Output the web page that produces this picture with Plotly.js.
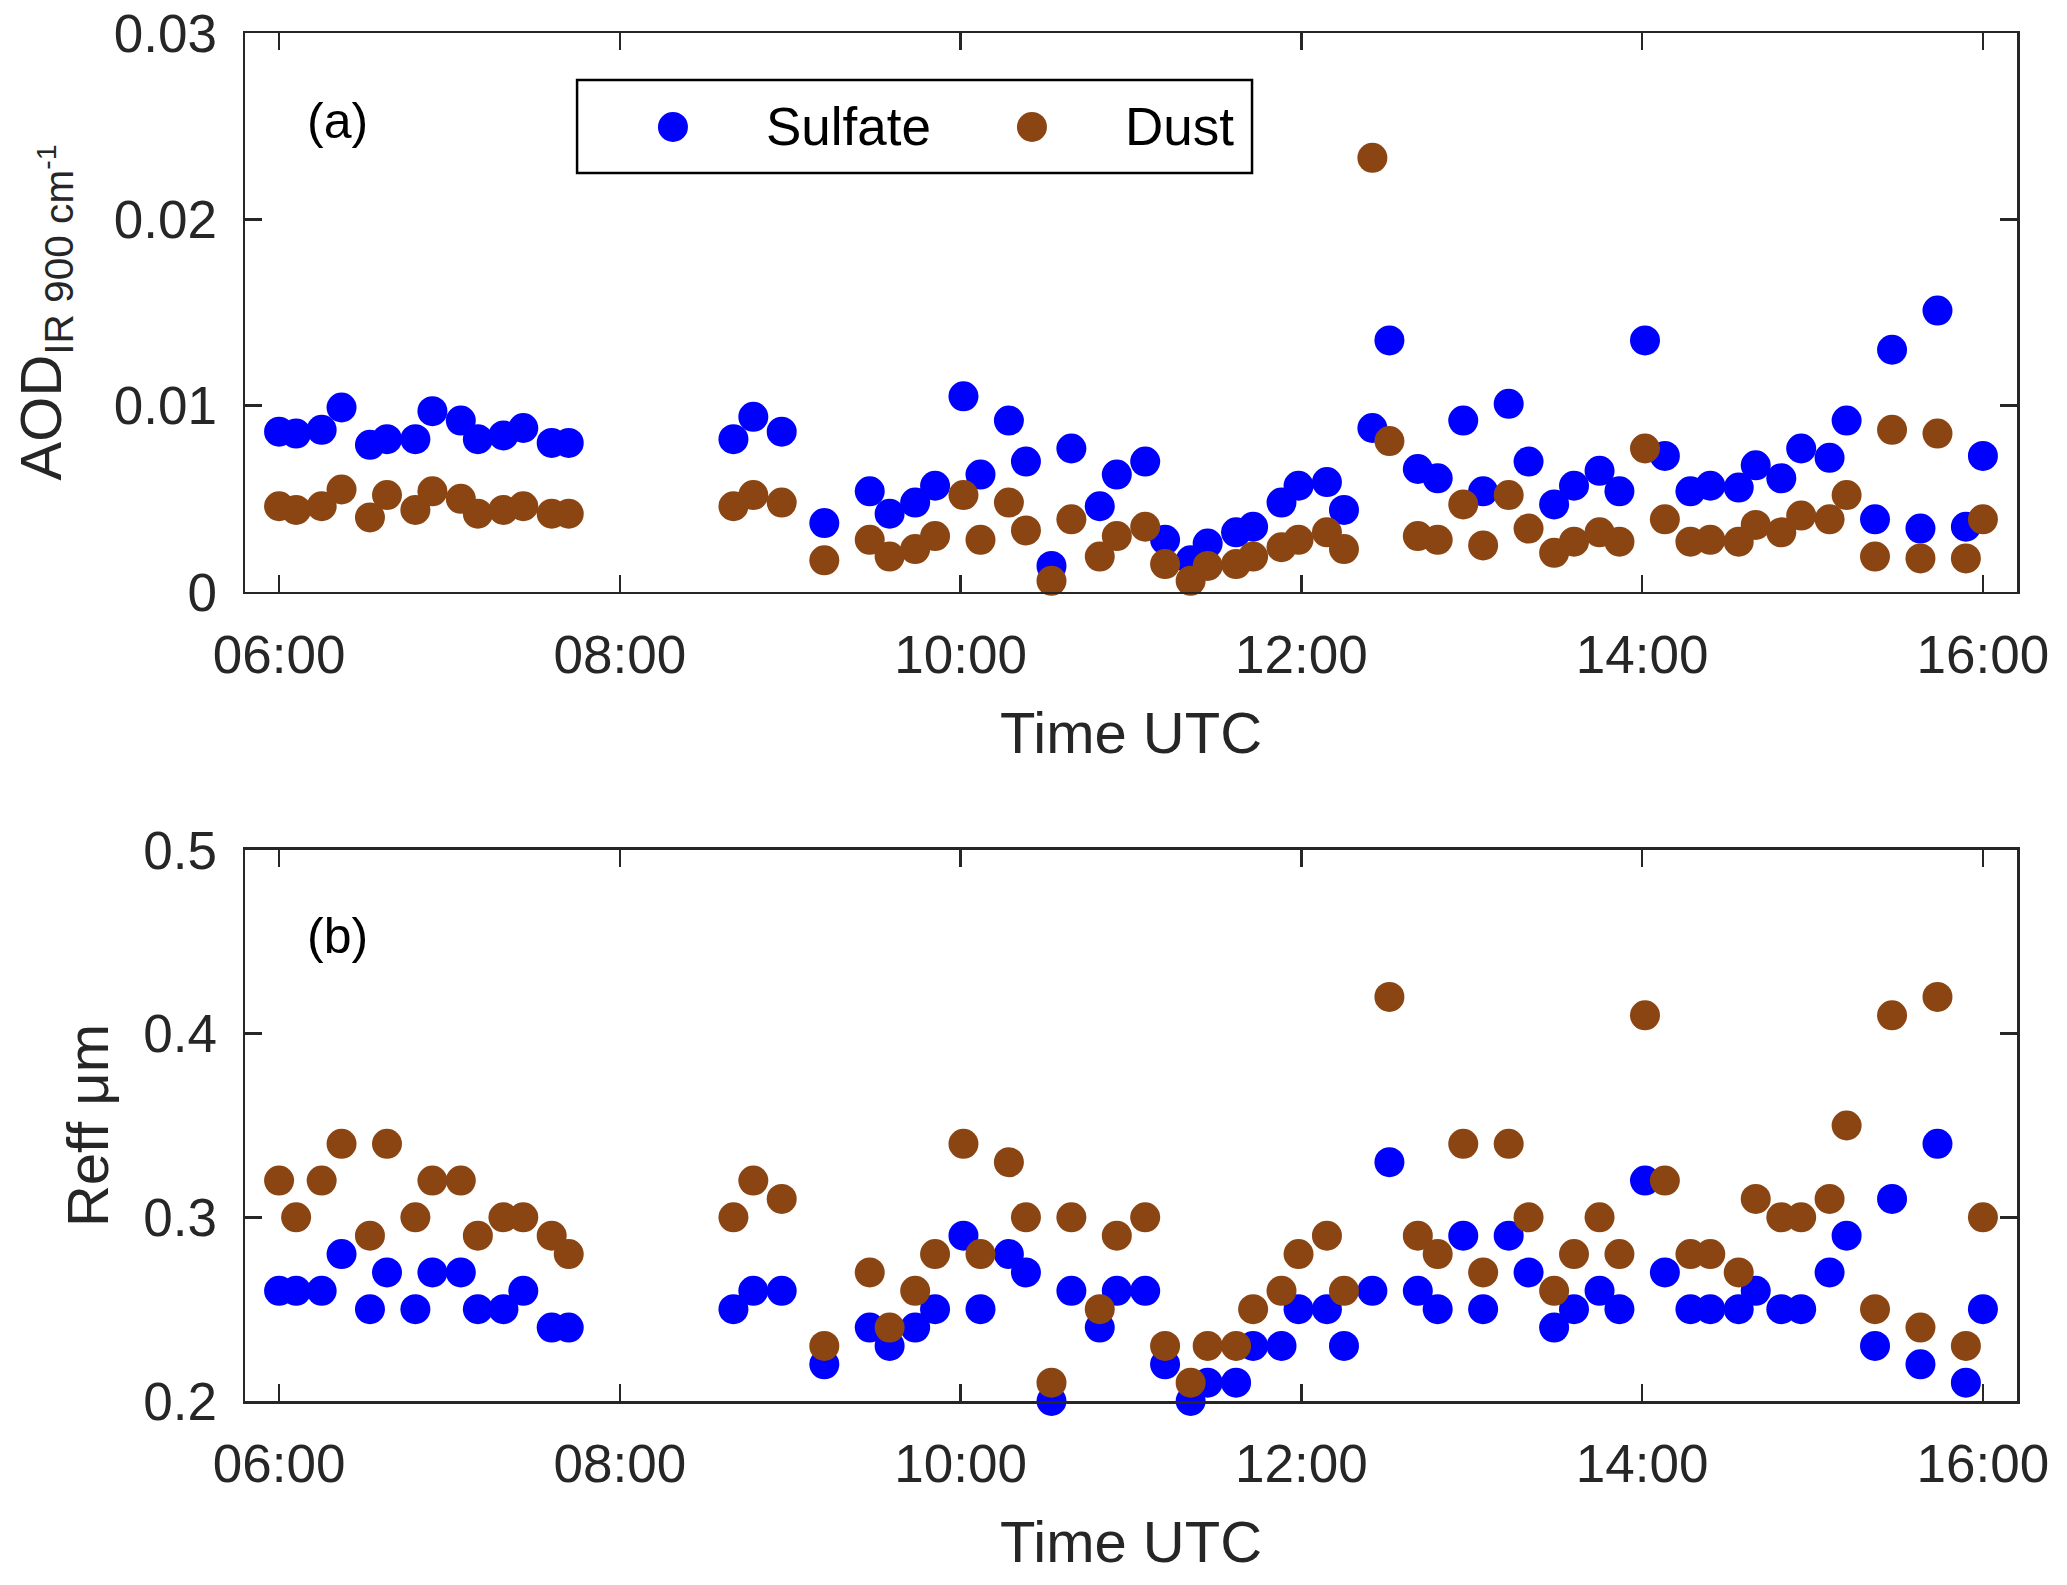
<!DOCTYPE html>
<html>
<head>
<meta charset="utf-8">
<script src="https://cdn.plot.ly/plotly-3.0.1.min.js"></script>
<style>
  body { margin: 0; background: #fff; }
  #aerosol { width: 2067px; height: 1585px; }
</style>
</head>
<body>
<div id="aerosol"></div>
<script>
var day = '2019-01-01 ';

var times = [
    '06:00', '06:06', '06:15', '06:22', '06:32', '06:38', '06:48', '06:54', '07:04', '07:10', '07:19', '07:26', '07:36', '07:42',
    '08:40', '08:47', '08:57',
    '09:12',
    '09:28', '09:35', '09:44', '09:51', '10:01', '10:07', '10:17', '10:23', '10:32', '10:39', '10:49', '10:55',
    '11:05', '11:12', '11:21', '11:27', '11:37', '11:43', '11:53', '11:59', '12:09', '12:15', '12:25', '12:31',
    '12:41', '12:48', '12:57', '13:04', '13:13', '13:20', '13:29', '13:36', '13:45', '13:52', '14:01', '14:08',
    '14:17', '14:24', '14:34', '14:40', '14:49', '14:56', '15:06', '15:12', '15:22', '15:28', '15:38', '15:44',
    '15:54', '16:00'
];

var sulfateAod = [
    0.0086, 0.0085, 0.0087, 0.0099, 0.0079, 0.0082, 0.0082, 0.0097, 0.0092, 0.0082, 0.0084, 0.0088, 0.0080, 0.0080,
    0.0082, 0.0094, 0.0086,
    0.0037,
    0.0054, 0.0042, 0.0048, 0.0057, 0.0105, 0.0063, 0.0092, 0.0070, 0.0014, 0.0077, 0.0046, 0.0063,
    0.0070, 0.0028, 0.0017, 0.0026, 0.0032, 0.0035, 0.0048, 0.0057, 0.0059, 0.0044, 0.0088, 0.0135,
    0.0066, 0.0061, 0.0092, 0.0054, 0.0101, 0.0070, 0.0047, 0.0057, 0.0065, 0.0054, 0.0135, 0.0073,
    0.0054, 0.0057, 0.0056, 0.0068, 0.0061, 0.0077, 0.0072, 0.0092, 0.0039, 0.0130, 0.0034, 0.0151,
    0.0035, 0.0073
];

var dustAod = [
    0.0046, 0.0044, 0.0046, 0.0055, 0.0040, 0.0052, 0.0044, 0.0054, 0.0050, 0.0042, 0.0044, 0.0046, 0.0042, 0.0042,
    0.0046, 0.0052, 0.0048,
    0.0017,
    0.0028, 0.0019, 0.0023, 0.0030, 0.0052, 0.0028, 0.0048, 0.0033, 0.0006, 0.0039, 0.0019, 0.0030,
    0.0035, 0.0015, 0.0006, 0.0014, 0.0015, 0.0019, 0.0024, 0.0028, 0.0032, 0.0023, 0.0233, 0.0081,
    0.0030, 0.0028, 0.0047, 0.0025, 0.0052, 0.0034, 0.0021, 0.0027, 0.0032, 0.0027, 0.0077, 0.0039,
    0.0027, 0.0028, 0.0027, 0.0036, 0.0032, 0.0041, 0.0039, 0.0052, 0.0019, 0.0087, 0.0018, 0.0085,
    0.0018, 0.0039
];

var sulfateReff = [
    0.26, 0.26, 0.26, 0.28, 0.25, 0.27, 0.25, 0.27, 0.27, 0.25, 0.25, 0.26, 0.24, 0.24,
    0.25, 0.26, 0.26,
    0.22,
    0.24, 0.23, 0.24, 0.25, 0.29, 0.25, 0.28, 0.27, 0.20, 0.26, 0.24, 0.26,
    0.26, 0.22, 0.20, 0.21, 0.21, 0.23, 0.23, 0.25, 0.25, 0.23, 0.26, 0.33,
    0.26, 0.25, 0.29, 0.25, 0.29, 0.27, 0.24, 0.25, 0.26, 0.25, 0.32, 0.27,
    0.25, 0.25, 0.25, 0.26, 0.25, 0.25, 0.27, 0.29, 0.23, 0.31, 0.22, 0.34,
    0.21, 0.25
];

var dustReff = [
    0.32, 0.30, 0.32, 0.34, 0.29, 0.34, 0.30, 0.32, 0.32, 0.29, 0.30, 0.30, 0.29, 0.28,
    0.30, 0.32, 0.31,
    0.23,
    0.27, 0.24, 0.26, 0.28, 0.34, 0.28, 0.33, 0.30, 0.21, 0.30, 0.25, 0.29,
    0.30, 0.23, 0.21, 0.23, 0.23, 0.25, 0.26, 0.28, 0.29, 0.26, null, 0.42,
    0.29, 0.28, 0.34, 0.27, 0.34, 0.30, 0.26, 0.28, 0.30, 0.28, 0.41, 0.32,
    0.28, 0.28, 0.27, 0.31, 0.30, 0.30, 0.31, 0.35, 0.25, 0.41, 0.24, 0.42,
    0.23, 0.30
];

var seriesNames = ['Sulfate', 'Dust'];
var seriesColours = ['#0000ff', '#8b4513'];
var panelLabels = ['(a)', '(b)'];

var x = times.map(function (t) { return day + t; });
var ink = '#262626';
var fontFamily = '"Liberation Sans", Arial, Helvetica, sans-serif';

function points(y, i, xa, ya) {
    return {
        x: x,
        y: y,
        name: seriesNames[i],
        type: 'scatter',
        mode: 'markers',
        xaxis: xa,
        yaxis: ya,
        cliponaxis: false,
        showlegend: false,
        marker: { size: 30, color: seriesColours[i] }
    };
}

var data = [
    points(sulfateAod, 0, 'x', 'y'),
    points(dustAod, 1, 'x', 'y'),
    points(sulfateReff, 0, 'x2', 'y2'),
    points(dustReff, 1, 'x2', 'y2')
];

function boxAxis(extra) {
    var ax = {
        ticks: 'inside',
        ticklen: 17,
        tickwidth: 2.5,
        tickcolor: ink,
        showline: true,
        linewidth: 2.5,
        linecolor: ink,
        mirror: 'ticks',
        showgrid: false,
        zeroline: false,
        tickfont: { size: 53, color: ink }
    };
    for (var k in extra) ax[k] = extra[k];
    return ax;
}

function timeAxis(anchor) {
    return boxAxis({
        type: 'date',
        anchor: anchor,
        range: [day + '05:48', day + '16:12'],
        tick0: day + '06:00',
        dtick: 7200000,
        tickformat: '%H:%M',
        ticklabelstandoff: 15,
        title: { text: 'Time UTC', font: { size: 58, color: ink }, standoff: 30 }
    });
}

// legend drawn by hand so the symbols can match the marker size
var legendY = 0.9313;
var legendMarkX = [0.2415, 0.4441];
var legendTextX = [0.2929, 0.4955];

var shapes = [{
    type: 'rect', xref: 'paper', yref: 'paper',
    x0: 0.1874, x1: 0.5683, y0: 0.8977, y1: 0.9656,
    line: { color: '#000', width: 2.5 }, fillcolor: '#fff'
}];
var annotations = [];

seriesNames.forEach(function (name, i) {
    shapes.push({
        type: 'circle', xref: 'paper', yref: 'paper',
        xsizemode: 'pixel', ysizemode: 'pixel',
        xanchor: legendMarkX[i], yanchor: legendY,
        x0: -15, x1: 15, y0: -15, y1: 15,
        line: { width: 0 }, fillcolor: seriesColours[i]
    });
    annotations.push({
        text: name, xref: 'paper', yref: 'paper',
        x: legendTextX[i], y: legendY, xanchor: 'left', yanchor: 'middle',
        showarrow: false, font: { size: 53, color: '#000' }
    });
});

panelLabels.forEach(function (label, i) {
    annotations.push({
        text: label,
        xref: i === 0 ? 'x domain' : 'x2 domain',
        yref: i === 0 ? 'y domain' : 'y2 domain',
        x: 0.052, y: 0.843, xanchor: 'center', yanchor: 'middle',
        showarrow: false, font: { size: 50, color: '#000' }
    });
});

var layout = {
    width: 2067,
    height: 1585,
    font: { family: fontFamily, color: ink },
    paper_bgcolor: '#fff',
    plot_bgcolor: '#fff',
    margin: { l: 245, r: 50, t: 33, b: 184 },
    showlegend: false,
    xaxis: timeAxis('y'),
    xaxis2: timeAxis('y2'),
    yaxis: boxAxis({
        domain: [0.5914, 1],
        anchor: 'x',
        range: [0, 0.03],
        dtick: 0.01,
        ticklabelstandoff: 15,
        title: { text: 'AOD<sub>IR 900 cm<sup>-1</sup></sub>', font: { size: 58, color: ink }, standoff: 34 }
    }),
    yaxis2: boxAxis({
        domain: [0, 0.4028],
        anchor: 'x2',
        range: [0.2, 0.5],
        tick0: 0.2,
        dtick: 0.1,
        ticklabelstandoff: 15,
        title: { text: 'Reff μm', font: { size: 58, color: ink }, standoff: 16 }
    }),
    shapes: shapes,
    annotations: annotations
};

Plotly.newPlot('aerosol', data, layout, { displayModeBar: false, staticPlot: true });
</script>
</body>
</html>
